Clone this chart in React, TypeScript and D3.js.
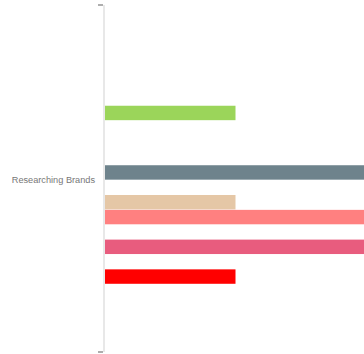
import React from "react";
import * as d3 from "d3";

// One category, fourteen series slots; empty slots hold no value.
const categories = ["Researching Brands"];
const seriesNames = [
  "S1", "S2", "S3", "S4", "S5", "S6", "S7",
  "S8", "S9", "S10", "S11", "S12", "S13", "S14",
];
const seriesValues = [0, 0, 1, 0, 0, 0, 2, 0, 1, 2, 0, 2, 0, 1];
const seriesColors = [
  "#cccccc", "#cccccc", "#9bd55a", "#cccccc", "#cccccc", "#cccccc", "#6e838c",
  "#cccccc", "#e5c7a6", "#ff8080", "#cccccc", "#e85c7e", "#cccccc", "#ff0000",
];
const xDomain = [0, 2];

const W = 364;
const H = 354;
const margin = { top: 5, right: 0, bottom: 2, left: 104 };

export default function App() {
  const y0 = d3
    .scaleBand<string>()
    .domain(categories)
    .range([margin.top, H - margin.bottom]);

  const y1 = d3
    .scaleBand<string>()
    .domain(seriesNames)
    .range([0, y0.bandwidth()])
    .paddingInner(0.03)
    .paddingOuter(4.68)
    .align(0.51);

  const x = d3
    .scaleLinear()
    .domain(xDomain)
    .range([margin.left, margin.left + 263]);

  const [yTop, yBot] = y0.range();

  return (
    <svg
      width={W}
      height={H}
      style={{ position: "fixed", left: 0, top: 0, display: "block", background: "#fff" }}
    >
      {categories.map((c) => (
        <g key={c} transform={`translate(0,${y0(c)})`}>
          {seriesNames.map((s, i) =>
            seriesValues[i] > 0 ? (
              <rect
                key={s}
                x={x(0)}
                y={y1(s)}
                width={x(seriesValues[i]) - x(0)}
                height={y1.bandwidth()}
                fill={seriesColors[i]}
              />
            ) : null
          )}
        </g>
      ))}

      {/* axis line and its end ticks */}
      <line x1={margin.left} x2={margin.left} y1={yTop} y2={yBot} stroke="#e8e8e8" strokeWidth={2} />
      <line x1={margin.left - 6} x2={margin.left - 1} y1={yTop} y2={yTop} stroke="#777" strokeWidth={1.2} />
      <line x1={margin.left - 6} x2={margin.left - 1} y1={yBot} y2={yBot} stroke="#777" strokeWidth={1.2} />

      {categories.map((c) => (
        <text
          key={c}
          x={margin.left - 9}
          y={(y0(c) as number) + y0.bandwidth() / 2 + 2}
          textAnchor="end"
          dominantBaseline="middle"
          fontFamily="Liberation Sans, Arial, sans-serif"
          fontSize={9.2}
          fill="#777"
        >
          {c}
        </text>
      ))}
    </svg>
  );
}
